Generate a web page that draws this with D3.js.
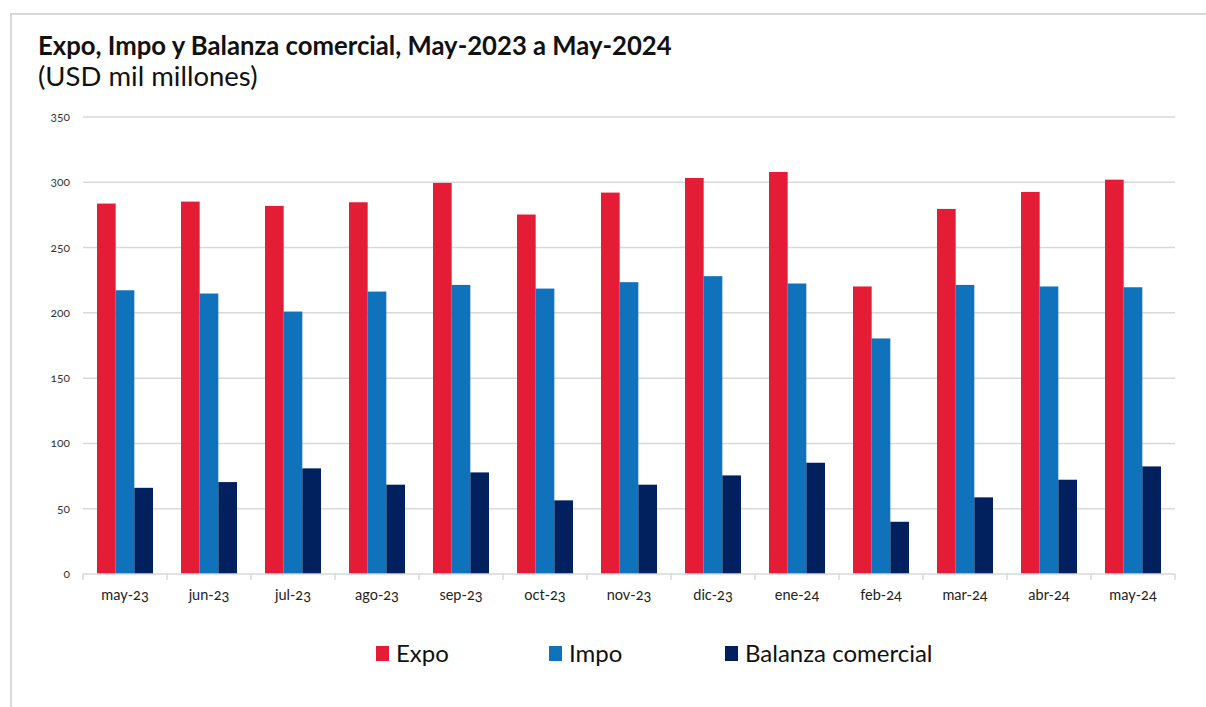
<!DOCTYPE html>
<html>
<head>
<meta charset="utf-8">
<script src="https://cdn.jsdelivr.net/npm/d3@7"></script>
<style>
  body { margin: 0; background: #fff; }
  svg { display: block; font-family: Lato, "Open Sans", sans-serif; }
</style>
</head>
<body>
<div id="chart"></div>
<script>
// data (USD mil millones)
const months = ["may-23", "jun-23", "jul-23", "ago-23", "sep-23", "oct-23", "nov-23",
  "dic-23", "ene-24", "feb-24", "mar-24", "abr-24", "may-24"];
const expo = [283.7, 285.2, 281.9, 284.7, 299.5, 275.3, 292.1, 303.3, 307.9, 220.2, 279.6, 292.6, 302.0];
const impo = [217.3, 214.8, 201.0, 216.3, 221.4, 218.6, 223.5, 228.1, 222.5, 180.4, 221.4, 220.2, 219.6];
const balanza = [66.0, 70.4, 80.9, 68.4, 77.8, 56.4, 68.4, 75.5, 85.2, 40.0, 58.7, 72.2, 82.4];
const seriesNames = ["Expo", "Impo", "Balanza comercial"];
const yTicks = [0, 50, 100, 150, 200, 250, 300, 350];

const colors = ["#e41c36", "#1072bb", "#00205e"];

const width = 1206, height = 707;
const margin = { top: 117, right: 31, bottom: 133, left: 83 };

const svg = d3.select("#chart").append("svg")
  .attr("width", width)
  .attr("height", height);

// outer frame (only top and left edges visible)
svg.append("path")
  .attr("d", `M11,${height} L11,14 L${width},14`)
  .attr("fill", "none")
  .attr("stroke", "#d9d9d9")
  .attr("stroke-width", 2);

svg.append("text")
  .attr("x", 38).attr("y", 55)
  .attr("font-size", 25.7).attr("font-weight", 700)
  .attr("fill", "#111")
  .text("Expo, Impo y Balanza comercial, May-2023 a May-2024");

svg.append("text")
  .attr("x", 38).attr("y", 86)
  .attr("font-size", 27.5)
  .attr("fill", "#111")
  .text("(USD mil millones)");

const x0 = d3.scaleBand()
  .domain(months)
  .range([margin.left, width - margin.right]);

const x1 = d3.scaleBand()
  .domain(seriesNames)
  .range([x0.bandwidth() / 6, x0.bandwidth() * 5 / 6]);

const y = d3.scaleLinear()
  .domain([0, 350])
  .range([height - margin.bottom, margin.top]);

// gridlines
svg.append("g")
  .selectAll("line")
  .data(yTicks.filter(d => d > 0))
  .join("line")
  .attr("x1", margin.left).attr("x2", width - margin.right)
  .attr("y1", d => y(d)).attr("y2", d => y(d))
  .attr("stroke", "#d9d9d9")
  .attr("stroke-width", 1.5);

// y labels
svg.append("g")
  .selectAll("text")
  .data(yTicks)
  .join("text")
  .attr("x", 70)
  .attr("y", d => y(d) + 4)
  .attr("text-anchor", "end")
  .attr("font-size", 12)
  .attr("fill", "#333")
  .style("font-variant-numeric", "oldstyle-nums")
  .text(d => d);

// bars
const rows = months.map((m, i) => ({ month: m, values: [expo[i], impo[i], balanza[i]] }));

const groups = svg.append("g")
  .selectAll("g")
  .data(rows)
  .join("g")
  .attr("transform", d => `translate(${x0(d.month)},0)`);

groups.selectAll("rect")
  .data(d => d.values.map((v, k) => ({ key: seriesNames[k], value: v, k })))
  .join("rect")
  .attr("x", d => x1(d.key))
  .attr("width", x1.bandwidth())
  .attr("y", d => y(d.value))
  .attr("height", d => y(0) - y(d.value))
  .attr("fill", d => colors[d.k]);

// x axis
const xAxis = svg.append("g")
  .attr("transform", `translate(0,${y(0)})`);

xAxis.append("line")
  .attr("x1", margin.left).attr("x2", width - margin.right)
  .attr("stroke", "#d9d9d9").attr("stroke-width", 1.5);

xAxis.selectAll("line.tick")
  .data(months.concat(["end"]))
  .join("line")
  .attr("class", "tick")
  .attr("x1", (d, i) => margin.left + i * x0.step())
  .attr("x2", (d, i) => margin.left + i * x0.step())
  .attr("y1", 0).attr("y2", 6)
  .attr("stroke", "#d9d9d9").attr("stroke-width", 1.5);

xAxis.selectAll("text")
  .data(months)
  .join("text")
  .attr("x", d => x0(d) + x0.bandwidth() / 2)
  .attr("y", 26)
  .attr("text-anchor", "middle")
  .attr("font-size", 14.5)
  .attr("fill", "#222")
  .style("font-variant-numeric", "oldstyle-nums")
  .text(d => d);

// legend
const legendX = [376, 549, 725];
const legend = svg.append("g")
  .selectAll("g")
  .data(seriesNames)
  .join("g")
  .attr("transform", (d, i) => `translate(${legendX[i]},646)`);

legend.append("rect")
  .attr("width", 13).attr("height", 15)
  .attr("fill", (d, i) => colors[i]);

legend.append("text")
  .attr("x", 20).attr("y", 16)
  .attr("font-size", 24)
  .attr("fill", "#111")
  .text(d => d);
</script>
</body>
</html>
